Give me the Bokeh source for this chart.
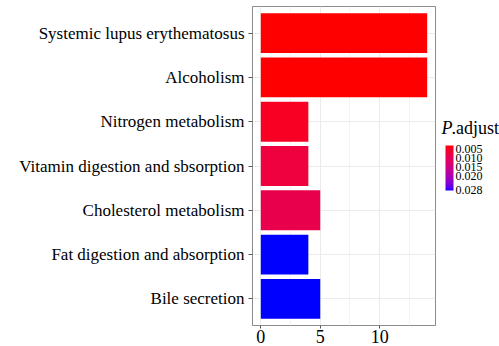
from bokeh.plotting import figure
from bokeh.layouts import row
from bokeh.models import (ColumnDataSource, FactorRange, Range1d, FixedTicker,
                          LinearColorMapper, ColorBar, AllLabels)
from bokeh.core.properties import value
from bokeh.transform import transform
from bokeh.embed import file_html
from bokeh.resources import INLINE

# KEGG pathway enrichment: gene counts and adjusted p-values
pathways = [
    "Systemic lupus erythematosus",
    "Alcoholism",
    "Nitrogen metabolism",
    "Vitamin digestion and sbsorption",
    "Cholesterol metabolism",
    "Fat digestion and absorption",
    "Bile secretion",
]
counts = [14, 14, 4, 4, 5, 4, 5]
p_adjust = [0.0028, 0.0028, 0.0049, 0.0074, 0.0090, 0.0285, 0.0285]

x_ticks = [0, 5, 10]
x_minor = [2.5, 7.5, 12.5]
legend_ticks = [0.005, 0.010, 0.015, 0.020, 0.028]
legend_labels = ["0.005", "0.010", "0.015", "0.020", "0.028"]

FONT = "Liberation Serif"


# red -> blue gradient interpolated in CIELAB space
def _srgb_to_lab(rgb):
    def lin(c):
        c = c / 255.0
        return c / 12.92 if c <= 0.04045 else ((c + 0.055) / 1.055) ** 2.4
    r, g, b = (lin(c) for c in rgb)
    X = (0.4124 * r + 0.3576 * g + 0.1805 * b) / 0.95047
    Y = (0.2126 * r + 0.7152 * g + 0.0722 * b) / 1.0
    Z = (0.0193 * r + 0.1192 * g + 0.9505 * b) / 1.08883

    def f(t):
        return t ** (1 / 3) if t > 0.008856 else 7.787 * t + 16 / 116
    fx, fy, fz = f(X), f(Y), f(Z)
    return (116 * fy - 16, 500 * (fx - fy), 200 * (fy - fz))


def _lab_to_hex(lab):
    L, a, b = lab
    fy = (L + 16) / 116
    fx = fy + a / 500
    fz = fy - b / 200

    def finv(t):
        return t ** 3 if t ** 3 > 0.008856 else (t - 16 / 116) / 7.787
    X, Y, Z = finv(fx) * 0.95047, finv(fy), finv(fz) * 1.08883
    r = 3.2406 * X - 1.5372 * Y - 0.4986 * Z
    g = -0.9689 * X + 1.8758 * Y + 0.0415 * Z
    bb = 0.0557 * X - 0.2040 * Y + 1.0570 * Z

    def gam(c):
        c = max(0.0, min(1.0, c))
        c = 12.92 * c if c <= 0.0031308 else 1.055 * c ** (1 / 2.4) - 0.055
        return int(round(max(0.0, min(1.0, c)) * 255))
    return "#%02x%02x%02x" % (gam(r), gam(g), gam(bb))


lab_lo = _srgb_to_lab((255, 0, 0))
lab_hi = _srgb_to_lab((0, 0, 255))
n = 256
# palette ordered from the high end (blue) to the low end (red)
palette = [_lab_to_hex(tuple(lab_hi[k] + (lab_lo[k] - lab_hi[k]) * i / (n - 1) for k in range(3)))
           for i in range(n)]

p_min, p_max = min(p_adjust), max(p_adjust)
# low > high so that small p-values sit at the top of the colour bar
mapper = LinearColorMapper(palette=palette, low=p_max, high=p_min)

source = ColumnDataSource(dict(pathway=pathways, count=counts, p=p_adjust))

# ---- main bar chart ----
p = figure(
    width=436, height=346,
    y_range=FactorRange(*reversed(pathways), range_padding=0.2 / 7),
    x_range=Range1d(-0.7, 14.7),
    output_backend="svg", toolbar_location=None,
    min_border_left=252, min_border_right=1,
    min_border_top=6, min_border_bottom=21,
)

p.hbar(y="pathway", right="count", left=0, height=0.9, source=source,
       fill_color=transform("p", mapper), line_color=None)

p.background_fill_color = "white"
p.border_fill_color = "white"
p.outline_line_color = "#8c8c8c"
p.outline_line_width = 1

p.xaxis.ticker = FixedTicker(ticks=x_ticks, minor_ticks=x_minor)
p.xgrid.ticker = p.xaxis.ticker
p.xgrid.grid_line_color = "#ebebeb"
p.xgrid.minor_grid_line_color = "#f4f4f4"
p.ygrid.grid_line_color = "#ebebeb"

for ax in (p.xaxis[0], p.yaxis[0]):
    ax.axis_line_color = None
    ax.major_tick_line_color = "#555555"
    ax.major_tick_in = 0
    ax.major_tick_out = 4
    ax.minor_tick_line_color = None
    ax.major_label_text_font = FONT
    ax.major_label_text_color = "black"

p.xaxis.major_tick_out = 3
p.xaxis.major_label_text_font_size = "18px"
p.xaxis.major_label_standoff = 0
p.yaxis.major_label_text_font_size = "17px"
p.yaxis.major_label_standoff = 4

# ---- legend panel: colour bar with "P.adjust" title ----
leg = figure(
    width=63, height=346,
    x_range=Range1d(0, 63), y_range=Range1d(346, 0),
    output_backend="svg", toolbar_location=None,
    min_border=0, outline_line_color=None,
)
leg.axis.visible = False
leg.grid.visible = False
leg.background_fill_color = "white"
leg.border_fill_color = "white"

leg.text(x=[5], y=[132], text=["P"], text_font=value(FONT),
         text_font_style="italic", text_font_size="18px",
         text_baseline="alphabetic", text_color="black")
leg.text(x=[15], y=[132], text=[".adjust"], text_font=value(FONT),
         text_font_size="18px", text_baseline="alphabetic", text_color="black")

color_bar = ColorBar(
    color_mapper=mapper,
    ticker=FixedTicker(ticks=legend_ticks),
    major_label_overrides={t: s for t, s in zip(legend_ticks, legend_labels)},
    major_label_policy=AllLabels(),
    major_label_text_font=FONT,
    major_label_text_font_size="12px",
    major_label_text_color="black",
    major_tick_line_color=None,
    bar_line_color=None,
    width=8, height=45,
    padding=0, margin=0,
    label_standoff=2,
    location=(9, 135),
    background_fill_color=None,
    border_line_color=None,
)
leg.add_layout(color_bar, "center")

layout = row(p, leg, spacing=0)

open("out.html", "w").write(file_html(layout, INLINE))
